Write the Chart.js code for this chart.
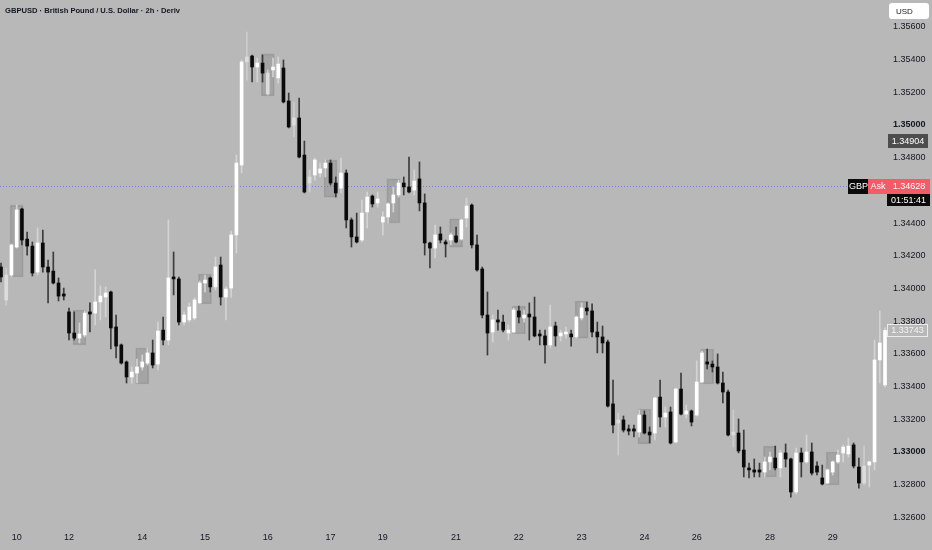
<!DOCTYPE html>
<html>
<head>
<meta charset="utf-8">
<script src="https://cdn.jsdelivr.net/npm/chart.js@4.4.0/dist/chart.umd.min.js"></script>
<style>
  html, body { margin: 0; padding: 0; background: #b8b8b8; }
  #wrap { width: 932px; height: 550px; position: relative; }
</style>
</head>
<body>
<div id="wrap"><canvas id="chart"></canvas></div>
<script>
// GBPUSD 2h candles, index 0..169
const dayLabels = ["10", "12", "14", "15", "16", "17", "19", "21", "22", "23", "24", "26", "28", "29"];
const dayIdx = [3, 13, 27, 39, 51, 63, 73, 87, 99, 111, 123, 133, 147, 159];

const opens = [
  1.34131, 1.33929, 1.34082, 1.34253, 1.34486, 1.34302, 1.34259, 1.34100, 1.34278, 1.34131,
  1.34106, 1.34033, 1.33966, 1.33856, 1.33727, 1.33696, 1.33715, 1.33856, 1.33849, 1.33917,
  1.33947, 1.33978, 1.33764, 1.33654, 1.33550, 1.33458, 1.33482, 1.33519, 1.33543, 1.33605,
  1.33537, 1.33745, 1.33684, 1.34070, 1.34058, 1.33794, 1.33807, 1.33819, 1.33911, 1.34033,
  1.34064, 1.34009, 1.34143, 1.33947, 1.34002, 1.34327, 1.34755, 1.35386, 1.35422, 1.35355,
  1.35379, 1.35190, 1.35337, 1.35288, 1.35349, 1.35147, 1.35000, 1.35043, 1.34816, 1.34645,
  1.34694, 1.34706, 1.34737, 1.34767, 1.34645, 1.34614, 1.34706, 1.34419, 1.34315, 1.34296,
  1.34468, 1.34565, 1.34523, 1.34406, 1.34437, 1.34523, 1.34572, 1.34645, 1.34621, 1.34602,
  1.34670, 1.34523, 1.34278, 1.34247, 1.34333, 1.34284, 1.34296, 1.34321, 1.34302, 1.34431,
  1.34510, 1.34266, 1.34119, 1.33837, 1.33733, 1.33807, 1.33794, 1.33727, 1.33733, 1.33862,
  1.33819, 1.33843, 1.33825, 1.33721, 1.33709, 1.33654, 1.33770, 1.33709, 1.33721, 1.33721,
  1.33703, 1.33819, 1.33880, 1.33862, 1.33733, 1.33703, 1.33672, 1.33293, 1.33176, 1.33195,
  1.33140, 1.33140, 1.33121, 1.33225, 1.33121, 1.33115, 1.33335, 1.33213, 1.33244, 1.33060,
  1.33384, 1.33231, 1.33250, 1.33225, 1.33427, 1.33550, 1.33537, 1.33519, 1.33421, 1.33366,
  1.33103, 1.33115, 1.33011, 1.32901, 1.32889, 1.32889, 1.32876, 1.32938, 1.32962, 1.32901,
  1.32993, 1.32956, 1.32754, 1.32993, 1.32938, 1.32999, 1.32913, 1.32840, 1.32809, 1.32876,
  1.32938, 1.32993, 1.32987, 1.33042, 1.32907, 1.32809, 1.32919, 1.32938, 1.33562, 1.33409
];
const highs = [
  1.34155, 1.34125, 1.34272, 1.34510, 1.34492, 1.34345, 1.34284, 1.34370, 1.34357, 1.34174,
  1.34223, 1.34064, 1.34002, 1.33880, 1.33856, 1.33788, 1.33862, 1.33911, 1.34113, 1.34015,
  1.34009, 1.33984, 1.33837, 1.33660, 1.33556, 1.33519, 1.33568, 1.33592, 1.33635, 1.33684,
  1.33794, 1.33825, 1.34419, 1.34223, 1.34070, 1.33856, 1.33911, 1.33941, 1.34045, 1.34082,
  1.34070, 1.34192, 1.34192, 1.34009, 1.34351, 1.34816, 1.35398, 1.35569, 1.35428, 1.35410,
  1.35428, 1.35337, 1.35410, 1.35416, 1.35398, 1.35196, 1.35141, 1.35165, 1.34902, 1.34725,
  1.34798, 1.34767, 1.34786, 1.34786, 1.34682, 1.34798, 1.34725, 1.34431, 1.34461, 1.34541,
  1.34590, 1.34572, 1.34590, 1.34468, 1.34523, 1.34621, 1.34663, 1.34682, 1.34804, 1.34725,
  1.34774, 1.34578, 1.34284, 1.34388, 1.34376, 1.34296, 1.34339, 1.34376, 1.34425, 1.34553,
  1.34517, 1.34327, 1.34131, 1.33978, 1.33837, 1.33868, 1.33837, 1.33776, 1.33880, 1.33892,
  1.33868, 1.33911, 1.33947, 1.33745, 1.33745, 1.33898, 1.33794, 1.33745, 1.33764, 1.33745,
  1.33831, 1.33911, 1.33917, 1.33905, 1.33794, 1.33770, 1.33684, 1.33439, 1.33237, 1.33219,
  1.33164, 1.33164, 1.33256, 1.33250, 1.33152, 1.33335, 1.33439, 1.33274, 1.33274, 1.33390,
  1.33482, 1.33286, 1.33256, 1.33556, 1.33617, 1.33629, 1.33556, 1.33599, 1.33488, 1.33378,
  1.33256, 1.33201, 1.33133, 1.32931, 1.32956, 1.32931, 1.32968, 1.32999, 1.33035, 1.33011,
  1.33048, 1.32962, 1.33023, 1.33023, 1.33103, 1.33054, 1.32938, 1.32919, 1.32895, 1.32944,
  1.33011, 1.33042, 1.33084, 1.33054, 1.32962, 1.33035, 1.32944, 1.33684, 1.33862, 1.33758
];
const lows = [
  1.34039, 1.33898, 1.34070, 1.34247, 1.34266, 1.34204, 1.34076, 1.34082, 1.34100, 1.33911,
  1.34027, 1.33923, 1.33929, 1.33684, 1.33684, 1.33666, 1.33703, 1.33733, 1.33776, 1.33807,
  1.33825, 1.33629, 1.33574, 1.33537, 1.33421, 1.33421, 1.33421, 1.33501, 1.33531, 1.33513,
  1.33501, 1.33654, 1.33654, 1.33960, 1.33776, 1.33776, 1.33794, 1.33807, 1.33905, 1.33978,
  1.33978, 1.33990, 1.33898, 1.33807, 1.33947, 1.34217, 1.34706, 1.35275, 1.35263, 1.35263,
  1.35263, 1.35184, 1.35294, 1.35257, 1.35135, 1.34982, 1.34927, 1.34798, 1.34584, 1.34590,
  1.34663, 1.34682, 1.34682, 1.34633, 1.34559, 1.34584, 1.34370, 1.34253, 1.34278, 1.34284,
  1.34370, 1.34498, 1.34498, 1.34327, 1.34400, 1.34468, 1.34559, 1.34572, 1.34584, 1.34572,
  1.34474, 1.34204, 1.34125, 1.34186, 1.34278, 1.34192, 1.34266, 1.34278, 1.34296, 1.34376,
  1.34247, 1.34106, 1.33819, 1.33592, 1.33672, 1.33745, 1.33733, 1.33684, 1.33727, 1.33788,
  1.33794, 1.33684, 1.33703, 1.33654, 1.33543, 1.33635, 1.33647, 1.33678, 1.33696, 1.33647,
  1.33696, 1.33807, 1.33837, 1.33703, 1.33605, 1.33605, 1.33274, 1.33115, 1.32980, 1.33121,
  1.33103, 1.33091, 1.33091, 1.33109, 1.33054, 1.33072, 1.33152, 1.33152, 1.33048, 1.33054,
  1.33225, 1.33207, 1.33158, 1.33219, 1.33421, 1.33507, 1.33488, 1.33415, 1.33299, 1.33097,
  1.33029, 1.32993, 1.32846, 1.32840, 1.32846, 1.32846, 1.32846, 1.32889, 1.32889, 1.32846,
  1.32907, 1.32723, 1.32742, 1.32846, 1.32931, 1.32858, 1.32858, 1.32797, 1.32803, 1.32858,
  1.32931, 1.32938, 1.32968, 1.32901, 1.32778, 1.32797, 1.32785, 1.32889, 1.33421, 1.33397
];
const closes = [
  1.34070, 1.34082, 1.34266, 1.34480, 1.34296, 1.34259, 1.34094, 1.34278, 1.34131, 1.34100,
  1.34033, 1.33953, 1.33953, 1.33727, 1.33696, 1.33721, 1.33849, 1.33843, 1.33917, 1.33953,
  1.33972, 1.33758, 1.33647, 1.33543, 1.33458, 1.33488, 1.33519, 1.33550, 1.33605, 1.33531,
  1.33739, 1.33684, 1.34064, 1.34058, 1.33794, 1.33837, 1.33886, 1.33929, 1.34033, 1.34051,
  1.34009, 1.34131, 1.33947, 1.33996, 1.34327, 1.34767, 1.35386, 1.35416, 1.35355, 1.35379,
  1.35318, 1.35318, 1.35355, 1.35373, 1.35141, 1.34988, 1.35043, 1.34804, 1.34590, 1.34682,
  1.34786, 1.34731, 1.34767, 1.34645, 1.34584, 1.34706, 1.34419, 1.34315, 1.34284, 1.34461,
  1.34559, 1.34517, 1.34547, 1.34437, 1.34517, 1.34572, 1.34645, 1.34621, 1.34590, 1.34657,
  1.34523, 1.34278, 1.34247, 1.34327, 1.34296, 1.34272, 1.34327, 1.34284, 1.34419, 1.34504,
  1.34266, 1.34113, 1.33837, 1.33727, 1.33807, 1.33794, 1.33745, 1.33745, 1.33868, 1.33825,
  1.33837, 1.33825, 1.33709, 1.33709, 1.33654, 1.33764, 1.33709, 1.33727, 1.33733, 1.33703,
  1.33825, 1.33880, 1.33862, 1.33733, 1.33703, 1.33666, 1.33280, 1.33164, 1.33195, 1.33133,
  1.33127, 1.33127, 1.33225, 1.33115, 1.33103, 1.33329, 1.33213, 1.33237, 1.33054, 1.33384,
  1.33231, 1.33250, 1.33182, 1.33427, 1.33605, 1.33537, 1.33519, 1.33421, 1.33366, 1.33103,
  1.33121, 1.33005, 1.32907, 1.32889, 1.32876, 1.32876, 1.32938, 1.32968, 1.32901, 1.32993,
  1.32956, 1.32754, 1.32993, 1.32938, 1.32999, 1.32870, 1.32876, 1.32803, 1.32889, 1.32938,
  1.32980, 1.33029, 1.33035, 1.32913, 1.32809, 1.32913, 1.32938, 1.33562, 1.33666, 1.33743
];
// candles shown in light grey instead of white/black
const lightIdx = [1, 47, 51, 56, 59, 118, 140, 165];

// grey session boxes (centre candle, top, bottom)
const zoneIdx = [3, 15, 27, 39, 51, 63, 75, 87, 99, 111, 123, 135, 147, 159];
const zoneTop = [1.34510, 1.33868, 1.33635, 1.34088, 1.35435, 1.34786, 1.34670, 1.34425, 1.33892, 1.33923, 1.33262, 1.33629, 1.33035, 1.32999];
const zoneBottom = [1.34070, 1.33654, 1.33415, 1.33905, 1.35178, 1.34559, 1.34400, 1.34253, 1.33721, 1.33696, 1.33048, 1.33415, 1.32846, 1.32797];

const yTicks = [1.326, 1.328, 1.330, 1.332, 1.334, 1.336, 1.338, 1.340, 1.342, 1.344, 1.346, 1.348, 1.350, 1.352, 1.354, 1.356];
const boldTicks = [1.350, 1.330];

const askPrice = 1.34628;
const markPrice = 1.34904;
const lastPrice = 1.33743;
const countdown = "01:51:41";
const title = "GBPUSD · British Pound / U.S. Dollar · 2h · Deriv";

const FONT = "'Liberation Sans', Arial, sans-serif";

// colours per candle
const bodyColors = opens.map((o, i) => {
  if (lightIdx.includes(i)) return "#dcdcdc";
  return closes[i] >= o ? "#ffffff" : "#0a0a0a";
});
const wickColors = opens.map((o, i) => {
  if (lightIdx.includes(i)) return "#cdcdcd";
  return closes[i] >= o ? "#d4d4d4" : "#3c3c3c";
});

// ask line under the candles
const priceLine = {
  id: "priceLine",
  beforeDatasetsDraw(chart) {
    const { ctx, chartArea, scales } = chart;
    const y = Math.round(scales.y.getPixelForValue(askPrice)) + 0.5;
    ctx.save();
    ctx.lineWidth = 1;
    ctx.setLineDash([1, 2]);
    ctx.strokeStyle = "#6a84ea";
    ctx.beginPath();
    ctx.moveTo(chartArea.left, y);
    ctx.lineTo(chartArea.right, y);
    ctx.stroke();
    ctx.restore();
  }
};

function tag(ctx, x, y, w, h, fill, text, color, stroke) {
  if (fill) {
    ctx.fillStyle = fill;
    ctx.fillRect(x, y, w, h);
  }
  if (stroke) {
    ctx.strokeStyle = stroke;
    ctx.lineWidth = 1;
    ctx.strokeRect(x + 0.5, y + 0.5, w - 1, h - 1);
  }
  ctx.fillStyle = color;
  ctx.textAlign = "center";
  ctx.textBaseline = "middle";
  ctx.fillText(text, x + w / 2, y + h / 2 + 0.5);
}

// title, currency box and price tags
const overlay = {
  id: "overlay",
  afterDraw(chart) {
    const { ctx, scales } = chart;
    const ys = scales.y;
    ctx.save();

    ctx.font = "bold 7.6px " + FONT;
    ctx.fillStyle = "#131722";
    ctx.textAlign = "left";
    ctx.textBaseline = "middle";
    ctx.fillText(title, 5, 11);

    // USD box
    ctx.fillStyle = "#ffffff";
    ctx.beginPath();
    ctx.roundRect(889, 3, 40, 16, 3);
    ctx.fill();
    ctx.font = "8px " + FONT;
    ctx.fillStyle = "#131722";
    ctx.textAlign = "left";
    ctx.fillText("USD", 896, 11.5);

    ctx.font = "9px " + FONT;
    const my = Math.round(ys.getPixelForValue(markPrice));
    tag(ctx, 888, my - 7, 40, 14, "#4d4d4d", markPrice.toFixed(5), "#ffffff");

    const ay = Math.round(ys.getPixelForValue(askPrice));
    tag(ctx, 848, ay - 7, 21, 15, "#0b0b0b", "GBP", "#ffffff");
    tag(ctx, 868, ay - 7, 20, 15, "#f45b69", "Ask", "#ffffff");
    tag(ctx, 888, ay - 7, 42, 15, "#f45b69", askPrice.toFixed(5), "#ffffff");
    tag(ctx, 887, ay + 8, 43, 12, "#0b0b0b", countdown, "#ffffff");

    const ly = Math.round(ys.getPixelForValue(lastPrice));
    tag(ctx, 887, ly - 6, 41, 13, null, lastPrice.toFixed(5), "#f4f4f4", "#ececec");

    ctx.restore();
  }
};

new Chart(document.getElementById("chart"), {
  type: "bar",
  data: {
    datasets: [
      {
        label: "zones",
        data: zoneIdx.map((x, i) => ({ x: x, y: [zoneBottom[i], zoneTop[i]] })),
        backgroundColor: "rgba(115,115,115,0.28)",
        borderColor: "rgba(140,140,140,0.5)",
        borderWidth: 1,
        borderSkipped: false,
        barThickness: 13,
        grouped: false,
        order: 3
      },
      {
        label: "wicks",
        data: highs.map((h, i) => ({ x: i, y: [lows[i], h] })),
        backgroundColor: wickColors,
        barThickness: 1,
        grouped: false,
        order: 2
      },
      {
        label: "bodies",
        data: opens.map((o, i) => ({ x: i, y: [o, closes[i]] })),
        backgroundColor: bodyColors,
        barThickness: 3,
        minBarLength: 1,
        grouped: false,
        order: 1
      }
    ]
  },
  options: {
    responsive: true,
    maintainAspectRatio: false,
    animation: false,
    layout: { padding: 0 },
    plugins: {
      legend: { display: false },
      tooltip: { enabled: false }
    },
    scales: {
      x: {
        type: "linear",
        offset: false,
        min: -0.19,
        max: 169.57,
        grid: { display: false, drawTicks: false, offset: false },
        border: { display: false },
        afterBuildTicks: s => { s.ticks = dayIdx.map(v => ({ value: v })); },
        afterFit: s => {
          s.height = 25;
          s.paddingLeft = 0;
          s.paddingRight = 0;
        },
        ticks: {
          autoSkip: false,
          maxRotation: 0,
          padding: 7,
          color: "#131722",
          font: { family: FONT, size: 9 },
          callback: v => dayLabels[dayIdx.indexOf(v)]
        }
      },
      y: {
        type: "linear",
        position: "right",
        beginAtZero: false,
        min: 1.32552,
        max: 1.35765,
        grid: { display: false, drawTicks: false },
        border: { display: false },
        afterBuildTicks: s => { s.ticks = yTicks.map(v => ({ value: v })); },
        afterFit: s => {
          s.width = 44;
          s.paddingTop = 0;
          s.paddingBottom = 0;
        },
        ticks: {
          padding: 5,
          color: "#131722",
          font: c => {
            const v = c.tick ? c.tick.value : 0;
            const bold = boldTicks.some(b => Math.abs(b - v) < 1e-7);
            return { family: FONT, size: 9, weight: bold ? "bold" : "normal" };
          },
          callback: v => v.toFixed(5)
        }
      }
    }
  },
  plugins: [priceLine, overlay]
});
</script>
</body>
</html>
